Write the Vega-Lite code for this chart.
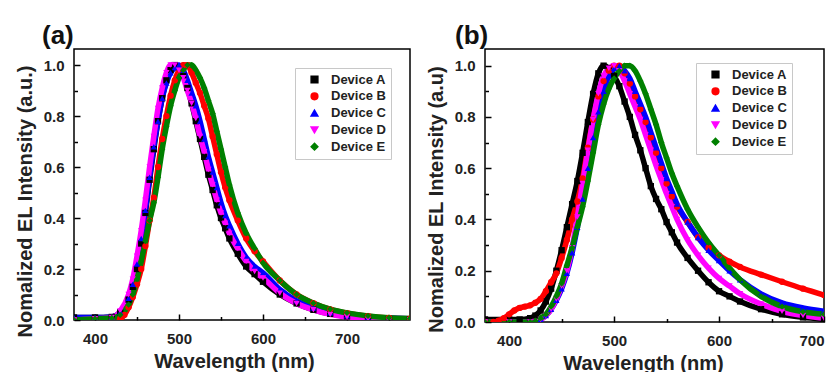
{
"$schema":"https://vega.github.io/schema/vega-lite/v6.json",
"background":"white",
"padding":{"left":14,"top":22,"right":0,"bottom":0},
"config":{
 "font":"Liberation Sans",
 "view":{"stroke":"black","strokeWidth":1.5},
 "axis":{"domain":false,"grid":false,"labelFont":"Liberation Sans","labelFontWeight":"bold","labelFontSize":15,"labelColor":"#222","titleFont":"Liberation Sans","titleFontWeight":"bold","titleFontSize":20,"titleColor":"#222","tickColor":"black","tickWidth":1.5},
 "legend":{"orient":"none","strokeColor":"#c8c8c8","fillColor":"white","padding":5,"labelFont":"Liberation Sans","labelFontSize":13,"labelFontWeight":"bold","labelColor":"#222","symbolSize":45,"rowPadding":2.8,"symbolOffset":8,"labelOffset":10},
 "title":{"font":"Liberation Sans","fontSize":26,"fontWeight":"bold","color":"#111","anchor":"start","frame":"group"}
},
"datasets":{
"a":[
{"s":"Device A","x":375,"y":0.01},{"s":"Device A","x":400,"y":0.01},{"s":"Device A","x":420,"y":0.012},{"s":"Device A","x":430,"y":0.03},{"s":"Device A","x":440,"y":0.08},{"s":"Device A","x":445,"y":0.13},{"s":"Device A","x":450,"y":0.2},{"s":"Device A","x":455,"y":0.3},{"s":"Device A","x":460,"y":0.42},{"s":"Device A","x":465,"y":0.55},{"s":"Device A","x":470,"y":0.67},{"s":"Device A","x":475,"y":0.78},{"s":"Device A","x":480,"y":0.87},{"s":"Device A","x":485,"y":0.94},{"s":"Device A","x":490,"y":0.98},{"s":"Device A","x":495,"y":1.0},{"s":"Device A","x":500,"y":0.99},{"s":"Device A","x":505,"y":0.96},{"s":"Device A","x":510,"y":0.91},{"s":"Device A","x":515,"y":0.85},{"s":"Device A","x":520,"y":0.78},{"s":"Device A","x":525,"y":0.71},{"s":"Device A","x":530,"y":0.64},{"s":"Device A","x":535,"y":0.57},{"s":"Device A","x":540,"y":0.51},{"s":"Device A","x":545,"y":0.45},{"s":"Device A","x":550,"y":0.4},{"s":"Device A","x":555,"y":0.36},{"s":"Device A","x":560,"y":0.32},{"s":"Device A","x":570,"y":0.26},{"s":"Device A","x":580,"y":0.21},{"s":"Device A","x":590,"y":0.18},{"s":"Device A","x":600,"y":0.15},{"s":"Device A","x":620,"y":0.1},{"s":"Device A","x":640,"y":0.065},{"s":"Device A","x":660,"y":0.04},{"s":"Device A","x":680,"y":0.024},{"s":"Device A","x":700,"y":0.014},{"s":"Device A","x":725,"y":0.007},{"s":"Device A","x":750,"y":0.003},{"s":"Device A","x":775,"y":0.002},
{"s":"Device B","x":375,"y":0},{"s":"Device B","x":400,"y":0},{"s":"Device B","x":420,"y":0},{"s":"Device B","x":430,"y":0.005},{"s":"Device B","x":435,"y":0.02},{"s":"Device B","x":440,"y":0.05},{"s":"Device B","x":445,"y":0.09},{"s":"Device B","x":450,"y":0.14},{"s":"Device B","x":455,"y":0.2},{"s":"Device B","x":460,"y":0.29},{"s":"Device B","x":465,"y":0.39},{"s":"Device B","x":470,"y":0.48},{"s":"Device B","x":475,"y":0.6},{"s":"Device B","x":480,"y":0.71},{"s":"Device B","x":485,"y":0.8},{"s":"Device B","x":490,"y":0.88},{"s":"Device B","x":495,"y":0.94},{"s":"Device B","x":500,"y":0.98},{"s":"Device B","x":505,"y":1.0},{"s":"Device B","x":510,"y":1.0},{"s":"Device B","x":515,"y":0.97},{"s":"Device B","x":520,"y":0.93},{"s":"Device B","x":525,"y":0.89},{"s":"Device B","x":530,"y":0.84},{"s":"Device B","x":535,"y":0.79},{"s":"Device B","x":540,"y":0.72},{"s":"Device B","x":545,"y":0.65},{"s":"Device B","x":550,"y":0.58},{"s":"Device B","x":555,"y":0.52},{"s":"Device B","x":560,"y":0.47},{"s":"Device B","x":570,"y":0.39},{"s":"Device B","x":580,"y":0.32},{"s":"Device B","x":590,"y":0.27},{"s":"Device B","x":600,"y":0.23},{"s":"Device B","x":620,"y":0.155},{"s":"Device B","x":640,"y":0.1},{"s":"Device B","x":660,"y":0.066},{"s":"Device B","x":680,"y":0.042},{"s":"Device B","x":700,"y":0.027},{"s":"Device B","x":725,"y":0.015},{"s":"Device B","x":750,"y":0.008},{"s":"Device B","x":775,"y":0.005},
{"s":"Device C","x":375,"y":0.01},{"s":"Device C","x":400,"y":0.01},{"s":"Device C","x":420,"y":0.012},{"s":"Device C","x":430,"y":0.03},{"s":"Device C","x":440,"y":0.085},{"s":"Device C","x":445,"y":0.14},{"s":"Device C","x":450,"y":0.22},{"s":"Device C","x":455,"y":0.32},{"s":"Device C","x":460,"y":0.43},{"s":"Device C","x":465,"y":0.56},{"s":"Device C","x":470,"y":0.68},{"s":"Device C","x":475,"y":0.78},{"s":"Device C","x":480,"y":0.87},{"s":"Device C","x":485,"y":0.93},{"s":"Device C","x":490,"y":0.97},{"s":"Device C","x":495,"y":0.99},{"s":"Device C","x":500,"y":1.0},{"s":"Device C","x":505,"y":0.98},{"s":"Device C","x":510,"y":0.94},{"s":"Device C","x":515,"y":0.89},{"s":"Device C","x":520,"y":0.84},{"s":"Device C","x":525,"y":0.78},{"s":"Device C","x":530,"y":0.71},{"s":"Device C","x":535,"y":0.64},{"s":"Device C","x":540,"y":0.58},{"s":"Device C","x":545,"y":0.52},{"s":"Device C","x":550,"y":0.46},{"s":"Device C","x":555,"y":0.41},{"s":"Device C","x":560,"y":0.37},{"s":"Device C","x":570,"y":0.3},{"s":"Device C","x":580,"y":0.245},{"s":"Device C","x":590,"y":0.21},{"s":"Device C","x":600,"y":0.185},{"s":"Device C","x":620,"y":0.12},{"s":"Device C","x":640,"y":0.075},{"s":"Device C","x":660,"y":0.047},{"s":"Device C","x":680,"y":0.028},{"s":"Device C","x":700,"y":0.017},{"s":"Device C","x":725,"y":0.01},{"s":"Device C","x":750,"y":0.008},{"s":"Device C","x":775,"y":0.005},
{"s":"Device D","x":375,"y":0},{"s":"Device D","x":400,"y":0.005},{"s":"Device D","x":420,"y":0.01},{"s":"Device D","x":430,"y":0.035},{"s":"Device D","x":440,"y":0.1},{"s":"Device D","x":445,"y":0.16},{"s":"Device D","x":450,"y":0.25},{"s":"Device D","x":455,"y":0.35},{"s":"Device D","x":460,"y":0.47},{"s":"Device D","x":465,"y":0.6},{"s":"Device D","x":470,"y":0.72},{"s":"Device D","x":475,"y":0.83},{"s":"Device D","x":480,"y":0.91},{"s":"Device D","x":485,"y":0.97},{"s":"Device D","x":490,"y":1.0},{"s":"Device D","x":495,"y":1.0},{"s":"Device D","x":500,"y":0.98},{"s":"Device D","x":505,"y":0.95},{"s":"Device D","x":510,"y":0.9},{"s":"Device D","x":515,"y":0.85},{"s":"Device D","x":520,"y":0.79},{"s":"Device D","x":525,"y":0.72},{"s":"Device D","x":530,"y":0.66},{"s":"Device D","x":535,"y":0.59},{"s":"Device D","x":540,"y":0.53},{"s":"Device D","x":545,"y":0.47},{"s":"Device D","x":550,"y":0.42},{"s":"Device D","x":555,"y":0.38},{"s":"Device D","x":560,"y":0.34},{"s":"Device D","x":570,"y":0.28},{"s":"Device D","x":580,"y":0.23},{"s":"Device D","x":590,"y":0.19},{"s":"Device D","x":600,"y":0.165},{"s":"Device D","x":620,"y":0.105},{"s":"Device D","x":640,"y":0.065},{"s":"Device D","x":660,"y":0.04},{"s":"Device D","x":680,"y":0.022},{"s":"Device D","x":700,"y":0.012},{"s":"Device D","x":725,"y":0.005},{"s":"Device D","x":750,"y":0.001},{"s":"Device D","x":775,"y":0},
{"s":"Device E","x":375,"y":0},{"s":"Device E","x":400,"y":0.005},{"s":"Device E","x":420,"y":0.008},{"s":"Device E","x":430,"y":0.02},{"s":"Device E","x":440,"y":0.06},{"s":"Device E","x":445,"y":0.1},{"s":"Device E","x":450,"y":0.16},{"s":"Device E","x":455,"y":0.23},{"s":"Device E","x":460,"y":0.31},{"s":"Device E","x":465,"y":0.39},{"s":"Device E","x":470,"y":0.46},{"s":"Device E","x":475,"y":0.56},{"s":"Device E","x":480,"y":0.67},{"s":"Device E","x":485,"y":0.76},{"s":"Device E","x":490,"y":0.84},{"s":"Device E","x":495,"y":0.9},{"s":"Device E","x":500,"y":0.95},{"s":"Device E","x":505,"y":0.98},{"s":"Device E","x":510,"y":1.0},{"s":"Device E","x":515,"y":1.0},{"s":"Device E","x":520,"y":0.98},{"s":"Device E","x":525,"y":0.95},{"s":"Device E","x":530,"y":0.91},{"s":"Device E","x":535,"y":0.86},{"s":"Device E","x":540,"y":0.81},{"s":"Device E","x":545,"y":0.74},{"s":"Device E","x":550,"y":0.67},{"s":"Device E","x":555,"y":0.6},{"s":"Device E","x":560,"y":0.53},{"s":"Device E","x":570,"y":0.42},{"s":"Device E","x":580,"y":0.34},{"s":"Device E","x":590,"y":0.28},{"s":"Device E","x":600,"y":0.225},{"s":"Device E","x":620,"y":0.155},{"s":"Device E","x":640,"y":0.1},{"s":"Device E","x":660,"y":0.066},{"s":"Device E","x":680,"y":0.043},{"s":"Device E","x":700,"y":0.028},{"s":"Device E","x":725,"y":0.016},{"s":"Device E","x":750,"y":0.009},{"s":"Device E","x":775,"y":0.006}
],
"b":[
{"s":"Device A","x":377,"y":0.01},{"s":"Device A","x":400,"y":0.01},{"s":"Device A","x":410,"y":0.01},{"s":"Device A","x":420,"y":0.015},{"s":"Device A","x":425,"y":0.025},{"s":"Device A","x":430,"y":0.045},{"s":"Device A","x":435,"y":0.08},{"s":"Device A","x":440,"y":0.13},{"s":"Device A","x":445,"y":0.2},{"s":"Device A","x":450,"y":0.28},{"s":"Device A","x":455,"y":0.37},{"s":"Device A","x":460,"y":0.46},{"s":"Device A","x":465,"y":0.55},{"s":"Device A","x":470,"y":0.66},{"s":"Device A","x":475,"y":0.78},{"s":"Device A","x":480,"y":0.89},{"s":"Device A","x":485,"y":0.97},{"s":"Device A","x":490,"y":1.0},{"s":"Device A","x":495,"y":0.99},{"s":"Device A","x":500,"y":0.96},{"s":"Device A","x":505,"y":0.92},{"s":"Device A","x":510,"y":0.86},{"s":"Device A","x":515,"y":0.8},{"s":"Device A","x":520,"y":0.73},{"s":"Device A","x":525,"y":0.67},{"s":"Device A","x":530,"y":0.6},{"s":"Device A","x":535,"y":0.53},{"s":"Device A","x":540,"y":0.48},{"s":"Device A","x":545,"y":0.44},{"s":"Device A","x":550,"y":0.39},{"s":"Device A","x":555,"y":0.35},{"s":"Device A","x":560,"y":0.31},{"s":"Device A","x":570,"y":0.25},{"s":"Device A","x":580,"y":0.2},{"s":"Device A","x":590,"y":0.155},{"s":"Device A","x":600,"y":0.12},{"s":"Device A","x":610,"y":0.1},{"s":"Device A","x":620,"y":0.08},{"s":"Device A","x":640,"y":0.05},{"s":"Device A","x":660,"y":0.03},{"s":"Device A","x":680,"y":0.018},{"s":"Device A","x":700,"y":0.01},
{"s":"Device B","x":377,"y":0},{"s":"Device B","x":385,"y":0},{"s":"Device B","x":390,"y":0.005},{"s":"Device B","x":395,"y":0.015},{"s":"Device B","x":400,"y":0.03},{"s":"Device B","x":405,"y":0.045},{"s":"Device B","x":410,"y":0.055},{"s":"Device B","x":415,"y":0.06},{"s":"Device B","x":420,"y":0.065},{"s":"Device B","x":425,"y":0.075},{"s":"Device B","x":430,"y":0.09},{"s":"Device B","x":435,"y":0.12},{"s":"Device B","x":440,"y":0.155},{"s":"Device B","x":445,"y":0.19},{"s":"Device B","x":450,"y":0.25},{"s":"Device B","x":455,"y":0.32},{"s":"Device B","x":460,"y":0.4},{"s":"Device B","x":465,"y":0.47},{"s":"Device B","x":470,"y":0.56},{"s":"Device B","x":475,"y":0.68},{"s":"Device B","x":480,"y":0.79},{"s":"Device B","x":485,"y":0.88},{"s":"Device B","x":490,"y":0.94},{"s":"Device B","x":495,"y":0.98},{"s":"Device B","x":500,"y":1.0},{"s":"Device B","x":505,"y":1.0},{"s":"Device B","x":510,"y":0.97},{"s":"Device B","x":515,"y":0.93},{"s":"Device B","x":520,"y":0.88},{"s":"Device B","x":525,"y":0.83},{"s":"Device B","x":530,"y":0.78},{"s":"Device B","x":535,"y":0.72},{"s":"Device B","x":540,"y":0.66},{"s":"Device B","x":545,"y":0.6},{"s":"Device B","x":550,"y":0.54},{"s":"Device B","x":555,"y":0.49},{"s":"Device B","x":560,"y":0.45},{"s":"Device B","x":570,"y":0.39},{"s":"Device B","x":580,"y":0.33},{"s":"Device B","x":590,"y":0.29},{"s":"Device B","x":600,"y":0.26},{"s":"Device B","x":610,"y":0.235},{"s":"Device B","x":620,"y":0.215},{"s":"Device B","x":640,"y":0.185},{"s":"Device B","x":660,"y":0.157},{"s":"Device B","x":680,"y":0.13},{"s":"Device B","x":700,"y":0.105},
{"s":"Device C","x":377,"y":0},{"s":"Device C","x":400,"y":0},{"s":"Device C","x":420,"y":0},{"s":"Device C","x":425,"y":0.003},{"s":"Device C","x":430,"y":0.01},{"s":"Device C","x":435,"y":0.025},{"s":"Device C","x":440,"y":0.05},{"s":"Device C","x":445,"y":0.085},{"s":"Device C","x":450,"y":0.13},{"s":"Device C","x":455,"y":0.19},{"s":"Device C","x":460,"y":0.27},{"s":"Device C","x":465,"y":0.37},{"s":"Device C","x":470,"y":0.48},{"s":"Device C","x":475,"y":0.6},{"s":"Device C","x":480,"y":0.72},{"s":"Device C","x":485,"y":0.82},{"s":"Device C","x":490,"y":0.9},{"s":"Device C","x":495,"y":0.96},{"s":"Device C","x":500,"y":0.99},{"s":"Device C","x":505,"y":1.0},{"s":"Device C","x":510,"y":0.98},{"s":"Device C","x":515,"y":0.95},{"s":"Device C","x":520,"y":0.9},{"s":"Device C","x":525,"y":0.85},{"s":"Device C","x":530,"y":0.8},{"s":"Device C","x":535,"y":0.74},{"s":"Device C","x":540,"y":0.68},{"s":"Device C","x":545,"y":0.62},{"s":"Device C","x":550,"y":0.56},{"s":"Device C","x":555,"y":0.51},{"s":"Device C","x":560,"y":0.46},{"s":"Device C","x":570,"y":0.39},{"s":"Device C","x":580,"y":0.33},{"s":"Device C","x":590,"y":0.28},{"s":"Device C","x":600,"y":0.24},{"s":"Device C","x":610,"y":0.2},{"s":"Device C","x":620,"y":0.165},{"s":"Device C","x":640,"y":0.11},{"s":"Device C","x":660,"y":0.075},{"s":"Device C","x":680,"y":0.055},{"s":"Device C","x":700,"y":0.042},
{"s":"Device D","x":377,"y":0},{"s":"Device D","x":400,"y":0},{"s":"Device D","x":420,"y":0},{"s":"Device D","x":425,"y":0.002},{"s":"Device D","x":430,"y":0.01},{"s":"Device D","x":435,"y":0.025},{"s":"Device D","x":440,"y":0.05},{"s":"Device D","x":445,"y":0.09},{"s":"Device D","x":450,"y":0.14},{"s":"Device D","x":455,"y":0.2},{"s":"Device D","x":460,"y":0.29},{"s":"Device D","x":465,"y":0.41},{"s":"Device D","x":470,"y":0.54},{"s":"Device D","x":475,"y":0.67},{"s":"Device D","x":480,"y":0.79},{"s":"Device D","x":485,"y":0.89},{"s":"Device D","x":490,"y":0.96},{"s":"Device D","x":495,"y":0.99},{"s":"Device D","x":500,"y":1.0},{"s":"Device D","x":505,"y":0.98},{"s":"Device D","x":510,"y":0.94},{"s":"Device D","x":515,"y":0.89},{"s":"Device D","x":520,"y":0.84},{"s":"Device D","x":525,"y":0.79},{"s":"Device D","x":530,"y":0.73},{"s":"Device D","x":535,"y":0.67},{"s":"Device D","x":540,"y":0.61},{"s":"Device D","x":545,"y":0.555},{"s":"Device D","x":550,"y":0.5},{"s":"Device D","x":555,"y":0.45},{"s":"Device D","x":560,"y":0.4},{"s":"Device D","x":570,"y":0.32},{"s":"Device D","x":580,"y":0.26},{"s":"Device D","x":590,"y":0.21},{"s":"Device D","x":600,"y":0.17},{"s":"Device D","x":610,"y":0.14},{"s":"Device D","x":620,"y":0.11},{"s":"Device D","x":640,"y":0.07},{"s":"Device D","x":660,"y":0.042},{"s":"Device D","x":680,"y":0.025},{"s":"Device D","x":700,"y":0.015},
{"s":"Device E","x":377,"y":0},{"s":"Device E","x":400,"y":0},{"s":"Device E","x":420,"y":0},{"s":"Device E","x":425,"y":0.005},{"s":"Device E","x":430,"y":0.015},{"s":"Device E","x":435,"y":0.03},{"s":"Device E","x":440,"y":0.06},{"s":"Device E","x":445,"y":0.1},{"s":"Device E","x":450,"y":0.15},{"s":"Device E","x":455,"y":0.22},{"s":"Device E","x":460,"y":0.29},{"s":"Device E","x":465,"y":0.37},{"s":"Device E","x":470,"y":0.45},{"s":"Device E","x":475,"y":0.55},{"s":"Device E","x":480,"y":0.66},{"s":"Device E","x":485,"y":0.77},{"s":"Device E","x":490,"y":0.85},{"s":"Device E","x":495,"y":0.91},{"s":"Device E","x":500,"y":0.95},{"s":"Device E","x":505,"y":0.98},{"s":"Device E","x":510,"y":1.0},{"s":"Device E","x":515,"y":1.0},{"s":"Device E","x":520,"y":0.98},{"s":"Device E","x":525,"y":0.94},{"s":"Device E","x":530,"y":0.89},{"s":"Device E","x":535,"y":0.83},{"s":"Device E","x":540,"y":0.77},{"s":"Device E","x":545,"y":0.7},{"s":"Device E","x":550,"y":0.64},{"s":"Device E","x":555,"y":0.58},{"s":"Device E","x":560,"y":0.53},{"s":"Device E","x":570,"y":0.44},{"s":"Device E","x":580,"y":0.37},{"s":"Device E","x":590,"y":0.31},{"s":"Device E","x":600,"y":0.26},{"s":"Device E","x":610,"y":0.21},{"s":"Device E","x":620,"y":0.165},{"s":"Device E","x":640,"y":0.1},{"s":"Device E","x":660,"y":0.06},{"s":"Device E","x":680,"y":0.04},{"s":"Device E","x":700,"y":0.03}
]
},
"spacing":14,
"resolve":{"scale":{"x":"independent","y":"independent","color":"independent","shape":"independent"},"legend":{"color":"independent","shape":"independent"}},
"hconcat":[
{
 "width":336,"height":271,
 "title":{"text":"(a)","dx":-32,"offset":0},
 "data":{"name":"a"},
 "resolve":{"axis":{"x":"independent","y":"independent"}},
 "layer":[
  {"mark":{"type":"line","strokeWidth":5.5,"clip":true,"interpolate":"monotone"},
   "encoding":{
    "x":{"field":"x","type":"quantitative","scale":{"domain":[375,775],"nice":false,"zero":false},"axis":{"orient":"bottom","values":[400,500,600,700],"tickSize":-6,"labelPadding":17,"title":"Wavelength (nm)","titlePadding":5,"titleX":160}},
    "y":{"field":"y","type":"quantitative","scale":{"domain":[0,1.063],"nice":false},"axis":{"orient":"left","values":[0,0.2,0.4,0.6,0.8,1.0],"format":".1f","tickSize":-6,"labelPadding":16,"title":"Nomalized EL Intensity (a.u.)","titlePadding":8,"titleY":152}},
    "color":{"field":"s","type":"nominal","scale":{"domain":["Device A","Device B","Device C","Device D","Device E"],"range":["#000000","#ff0000","#0000ff","#ff00ff","#008000"]},"legend":{"title":null,"legendX":221,"legendY":19}}
   }},
  {"mark":{"type":"point","filled":true,"opacity":1,"size":40,"clip":true},
   "encoding":{
    "x":{"field":"x","type":"quantitative","axis":{"orient":"bottom","values":[450,550,650,750],"tickSize":-3.5,"labels":false,"title":null}},
    "y":{"field":"y","type":"quantitative","axis":{"orient":"left","values":[0.1,0.3,0.5,0.7,0.9],"tickSize":-3.5,"labels":false,"title":null}},
    "color":{"field":"s","type":"nominal","legend":{"title":null,"legendX":221,"legendY":19}},
    "shape":{"field":"s","type":"nominal","scale":{"domain":["Device A","Device B","Device C","Device D","Device E"],"range":["square","circle","triangle-up","triangle-down","diamond"]},"legend":{"title":null,"legendX":221,"legendY":19}}
   }}
 ]
},
{
 "width":339,"height":273,
 "title":{"text":"(b)","dx":-30,"offset":0},
 "data":{"name":"b"},
 "resolve":{"axis":{"x":"independent","y":"independent"}},
 "layer":[
  {"mark":{"type":"line","strokeWidth":5.5,"clip":true,"interpolate":"monotone"},
   "encoding":{
    "x":{"field":"x","type":"quantitative","scale":{"domain":[377,700],"nice":false,"zero":false},"axis":{"orient":"bottom","values":[400,500,600,700],"tickSize":-6,"labelPadding":17,"title":"Wavelength (nm)","titlePadding":5,"titleX":158}},
    "y":{"field":"y","type":"quantitative","scale":{"domain":[0,1.065],"nice":false},"axis":{"orient":"left","values":[0,0.2,0.4,0.6,0.8,1.0],"format":".1f","tickSize":-6,"labelPadding":16,"title":"Nomalized EL Intensity (a.u)","titlePadding":8,"titleY":150}},
    "color":{"field":"s","type":"nominal","scale":{"domain":["Device A","Device B","Device C","Device D","Device E"],"range":["#000000","#ff0000","#0000ff","#ff00ff","#008000"]},"legend":{"title":null,"legendX":211,"legendY":14}}
   }},
  {"mark":{"type":"point","filled":true,"opacity":1,"size":40,"clip":true},
   "encoding":{
    "x":{"field":"x","type":"quantitative","axis":{"orient":"bottom","values":[450,550,650],"tickSize":-3.5,"labels":false,"title":null}},
    "y":{"field":"y","type":"quantitative","axis":{"orient":"left","values":[0.1,0.3,0.5,0.7,0.9],"tickSize":-3.5,"labels":false,"title":null}},
    "color":{"field":"s","type":"nominal","legend":{"title":null,"legendX":211,"legendY":14}},
    "shape":{"field":"s","type":"nominal","scale":{"domain":["Device A","Device B","Device C","Device D","Device E"],"range":["square","circle","triangle-up","triangle-down","diamond"]},"legend":{"title":null,"legendX":211,"legendY":14}}
   }}
 ]
}
]
}
